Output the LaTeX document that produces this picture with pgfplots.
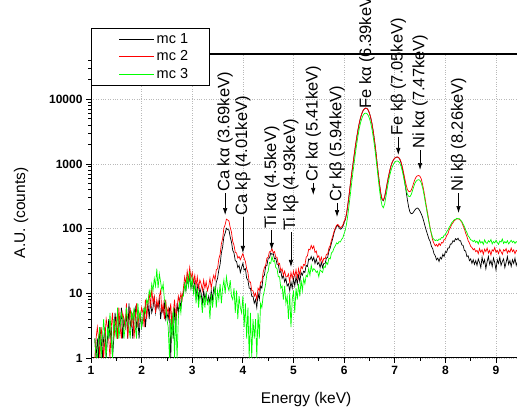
\documentclass[border=0pt]{standalone}
\usepackage{pgfplots}
\pgfplotsset{compat=1.18}
\usepackage{pgfplotstable}
\usepackage{fontspec}
\setmainfont{Liberation Sans}
\usetikzlibrary{arrows.meta}

% energy (keV), mc 1, mc 2, mc 3
\pgfplotstableread{
x a b c
1.075 2 1 2
1.100 1 2 1
1.125 2 3 1
1.150 1 2 2
1.175 3 1 3
1.200 2 3 1
1.225 1 2 2
1.250 2 1 4
1.275 3 2 2
1.300 1 4 1
1.325 2 3 3
1.350 4 2 2
1.375 2 1 5
1.400 3 3 2
1.425 1 5 1
1.450 2 2 4
1.475 5 3 3
1.500 3 4 2
1.525 2 2 6
1.550 4 6 2
1.575 3 3 3
1.600 6 2 5
1.625 2 5 4
1.650 4 4 2
1.675 3 3 3
1.700 5 7 6
1.725 2 2 4
1.750 7 4 3
1.775 3 6 2
1.800 4 3 5
1.825 2 5 4
1.850 5 2 6
1.875 6 4 3
1.900 3 7 2
1.925 4 3 7
1.950 2 5 4
1.975 5 4 5
2.000 3 6 3
2.025 4 5 4
2.050 6 3 6
2.075 3 8 5
2.100 5 4 8
2.125 7 7 7
2.150 4 10 11
2.175 8 6 9
2.200 5 12 14
2.225 6 7 11
2.250 9 9 17
2.275 5 5 13
2.300 7 8 24
2.325 6 6 12
2.350 8 9 20
2.375 4 11 15
2.400 6 5 11
2.425 5 7 14
2.450 7 4 8
2.475 4 8 7
2.500 5 5 4
2.525 4 6 3
2.550 6 4 1
2.575 1 7 4
2.600 5 3 2
2.625 2 5 6
2.650 6 8 1
2.675 3 4 5
2.700 7 6 1
2.725 5 9 4
2.750 8 7 7
2.775 6 10 5
2.800 9 8 9
2.825 10 12 9
2.850 14 18 14
2.875 11 14 11
2.900 17 22 18
2.925 13 16 13
2.950 19 25 22
2.975 12 17 12
3.000 16 21 17
3.025 11 15 10
3.050 15 19 14
3.075 9 13 7
3.100 13 18 12
3.125 8 12 6
3.150 12 16 10
3.175 10 14 8
3.200 7 11 5
3.225 11 16 9
3.250 8 12 6
3.275 10 15 10
3.300 7 11 7
3.325 9 13 8
3.350 7 17 4
3.375 11 12 10
3.400 8 16 6
3.425 12 19 9
3.450 10 16 13
3.475 15 23 6
3.500 17 24 11
3.525 23 34 8
3.550 28 40 14
3.575 42 58 7
3.600 52 70 12
3.625 75 102 16
3.650 85 115 10
3.675 101 140 18
3.700 97 136 13
3.725 95 131 11
3.750 74 104 16
3.775 62 88 9
3.800 46 63 8
3.825 42 55 12
3.850 32 43 5
3.875 31 42 11
3.900 25 35 4
3.925 27 37 9
3.950 21 33 6
3.975 25 37 5
4.000 29 41 9
4.025 23 35 3
4.050 24 31 7
4.075 17 24 2
4.100 16 21 6
4.125 12 15 1
4.150 12 15 5
4.175 9 11 1
4.200 9 11 4
4.225 7 9 2
4.250 8 10 4
4.275 6 8 1
4.300 10 12 5
4.325 8 11 2
4.350 13 15 7
4.375 12 15 6
4.400 18 21 9
4.425 19 25 11
4.450 26 27 14
4.475 27 35 20
4.500 35 36 22
4.525 35 44 30
4.550 42 44 29
4.575 40 49 37
4.600 41 42 31
4.625 34 44 32
4.650 35 36 25
4.675 28 36 24
4.700 28 28 18
4.725 21 29 18
4.750 22 22 12
4.775 17 24 13
4.800 19 19 8
4.825 15 22 13
4.850 17 18 7
4.875 13 18 9
4.900 14 20 4
4.925 11 15 10
4.950 15 21 3
4.975 12 17 8
5.000 17 22 11
5.025 13 18 5
5.050 18 23 12
5.075 14 17 8
5.100 19 24 14
5.125 15 19 9
5.150 21 26 16
5.175 19 24 11
5.200 22 28 17
5.225 21 27 14
5.250 27 36 19
5.275 26 38 18
5.300 34 48 24
5.325 33 47 19
5.350 37 55 27
5.375 32 49 22
5.400 36 54 24
5.425 29 43 23
5.450 34 45 21
5.475 28 36 22
5.500 30 38 18
5.525 25 31 23
5.550 30 36 22
5.575 25 30 21
5.600 29 35 26
5.625 29 34 25
5.650 35 40 30
5.675 36 40 28
5.700 45 50 35
5.725 50 55 34
5.750 60 66 42
5.775 70 76 44
5.800 85 90 50
5.825 98 102 54
5.850 108 112 60
5.875 112 116 58
5.900 104 110 63
5.925 98 104 62
5.950 100 106 68
5.975 108 114 72
6.000 124 130 84
6.025 138 142 96
6.050 172 176 121
6.075 236 242 166
6.100 335 342 240
6.125 495 502 350
6.150 710 722 518
6.175 990 1005 752
6.200 1390 1405 1060
6.225 1940 1955 1500
6.250 2590 2610 2050
6.275 3390 3410 2750
6.300 4290 4310 3550
6.325 5180 5210 4350
6.350 5980 6010 5050
6.375 6680 6700 5650
6.400 7080 7110 6000
6.425 7280 7300 6100
6.450 7190 7210 6000
6.475 6790 6800 5650
6.500 6090 6110 5050
6.525 5190 5210 4300
6.550 4190 4210 3450
6.575 3190 3210 2600
6.600 2290 2310 1900
6.625 1590 1610 1300
6.650 1040 1055 880
6.675 695 705 580
6.700 475 485 390
6.725 345 352 280
6.750 280 287 225
6.775 270 276 210
6.800 305 312 240
6.825 385 392 310
6.850 495 502 410
6.875 625 632 530
6.900 775 782 660
6.925 925 932 790
6.950 1055 1062 900
6.975 1155 1162 990
7.000 1225 1232 1060
7.025 1265 1272 1100
7.050 1275 1282 1110
7.075 1255 1262 1090
7.100 1180 1192 1030
7.125 1040 1072 920
7.150 860 902 770
7.175 680 732 620
7.200 510 582 490
7.225 375 472 400
7.250 278 402 340
7.275 214 377 315
7.300 180 371 312
7.325 170 392 335
7.350 172 441 385
7.375 182 512 445
7.400 195 581 505
7.425 205 632 545
7.450 208 656 565
7.475 200 662 570
7.500 185 641 555
7.525 168 582 505
7.550 150 481 430
7.575 128 382 345
7.600 108 291 265
7.625 92 221 205
7.650 80 171 160
7.675 69 131 125
7.700 63 101 100
7.725 53 81 84
7.750 49 66 72
7.775 41 59 68
7.800 38 54 65
7.825 33 57 67
7.850 35 53 65
7.875 31 59 69
7.900 36 55 68
7.925 34 61 73
7.950 40 60 72
7.975 37 68 79
8.000 44 69 81
8.025 43 78 89
8.050 50 83 95
8.075 50 96 105
8.100 58 104 112
8.125 58 116 123
8.150 65 123 129
8.175 63 133 137
8.200 70 137 139
8.225 67 142 144
8.250 71 141 142
8.275 65 140 142
8.300 65 133 135
8.325 56 125 129
8.350 55 111 117
8.375 46 100 108
8.400 45 85 95
8.425 37 76 87
8.450 38 65 77
8.475 32 60 73
8.500 34 53 67
8.525 29 51 66
8.550 33 47 63
8.575 28 49 66
8.600 32 44 61
8.625 27 46 64
8.650 34 41 58
8.675 30 49 66
8.700 25 43 60
8.725 36 47 63
8.750 29 40 57
8.775 33 48 67
8.800 24 44 61
8.825 31 50 59
8.850 37 42 65
8.875 28 46 62
8.900 32 39 68
8.925 26 47 58
8.950 35 45 63
8.975 30 51 60
9.000 23 43 66
9.025 33 46 61
9.050 29 41 57
9.075 36 48 64
9.100 27 44 62
9.125 31 40 69
9.150 34 47 59
9.175 25 45 63
9.200 30 49 60
9.225 37 42 65
9.250 28 46 58
9.275 32 43 62
9.300 26 50 66
9.325 33 44 61
9.350 29 47 64
9.375 35 41 59
9.400 27 46 63
9.425 31 44 61
}\spectra

\newcommand{\annfont}{\fontsize{16.5}{17}\selectfont}
% arrow from #2 down to #3 at energy #1, label #4 standing on top
\newcommand{\peak}[4]{%
  \draw[-{Latex[length=7pt,width=4.5pt]}, line width=0.7pt] (axis cs:#1,#2) -- (axis cs:#1,#3);
  \node[rotate=90, anchor=west, inner sep=1pt, font=\annfont] at (axis cs:#1,#2) {#4};
}

\begin{document}
\begin{tikzpicture}
\useasboundingbox (0,0) rectangle (517pt,411pt);
\begin{axis}[
    at={(91pt,53pt)}, anchor=south west,
    scale only axis, width=426pt, height=304pt,
    xmin=1, xmax=9.415,
    ymode=log, ymin=1, ymax=50000,
    axis x line*=bottom, axis y line*=left,
    axis line style={line width=1pt},
    clip mode=individual,
    xtick={1,2,...,9},
    xticklabels={1,2,3,4,5,6,7,8,9},
    minor x tick num=1,
    ytick={1,10,100,1000,10000},
    yticklabels={1,10,100,1000,10000},
    minor ytick={2,3,4,5,6,7,8,9,20,30,40,50,60,70,80,90,200,300,400,500,600,700,800,900,2000,3000,4000,5000,6000,7000,8000,9000,20000,30000,40000},
    tick align=outside,
    major tick length=5pt, minor tick length=3pt,
    tick style={black, line width=0.8pt},
    tick label style={font=\bfseries\fontsize{12}{12}\selectfont},
    grid=major,
    major grid style={dotted, gray!55, line width=0.6pt},
    xlabel={Energy (keV)},
    ylabel={A.U. (counts)},
    label style={font=\fontsize{15.5}{16}\selectfont},
    xlabel style={at={(axis description cs:0.505,-0.138)}, anchor=center},
    ylabel style={at={(axis description cs:-0.164,0.477)}, anchor=center},
    legend style={at={(axis description cs:0,1.0855)}, anchor=north west,
        font=\fontsize{14.5}{15}\selectfont, draw=black, line width=0.6pt,
        inner xsep=3pt, inner ysep=3pt, row sep=2pt},
    legend cell align=left,
    legend image code/.code={\path[draw=none, fill=none] (-25pt,-1pt) rectangle (35pt,1pt); \draw[#1, line width=0.8pt] (0pt,0pt) -- (35pt,0pt);},
]
\addplot[black, line width=0.7pt] table[x=x, y=a] {\spectra};
\addlegendentry{\makebox[48pt][l]{mc 1}}
\addplot[red, line width=0.7pt] table[x=x, y=b] {\spectra};
\addlegendentry{\makebox[48pt][l]{mc 2}}
\addplot[green, line width=0.7pt] table[x=x, y=c] {\spectra};
\addlegendentry{\makebox[48pt][l]{mc 3}}

\draw[line width=1.3pt] (rel axis cs:0,1) -- (rel axis cs:1,1);

\peak{3.65}{355}{162}{Ca kα (3.69keV)}
\peak{4.00}{151}{42}{Ca kβ (4.01keV)}
\peak{4.57}{95}{47}{Ti kα (4.5keV)}
\peak{4.95}{89}{25.5}{Ti kβ (4.93keV)}
\peak{5.39}{507}{331}{Cr kα (5.41keV)}
\peak{5.86}{249}{151}{Cr kβ (5.94keV)}
\node[rotate=90, anchor=west, inner sep=1pt, font=\annfont] at (axis cs:6.45,6810) {Fe kα (6.39keV)};
\peak{7.07}{2606}{1374}{Fe kβ (7.05keV)}
\peak{7.50}{1640}{805}{Ni kα (7.47keV)}
\peak{8.26}{355}{174}{Ni kβ (8.26keV)}
\end{axis}
\end{tikzpicture}
\end{document}
